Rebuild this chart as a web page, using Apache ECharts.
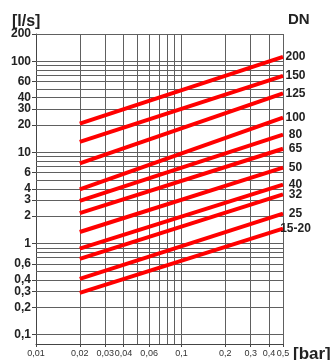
<!DOCTYPE html>
<html>
<head>
<meta charset="utf-8">
<script src="https://cdn.jsdelivr.net/npm/echarts@6/dist/echarts.min.js"></script>
<style>
  html, body { margin: 0; padding: 0; background: #fff; }
  #chart { width: 331px; height: 360px; }
</style>
</head>
<body>
<div id="chart"></div>
<script>
// pressure drop [bar] where every DN line starts and ends
var xStart = 0.02;
var xEnd = 0.5;

var dnNames = ['200', '150', '125', '100', '80', '65', '50', '40', '32', '25', '15-20'];
// flow [l/s] at 0.02 bar and at 0.5 bar
var flowAtStart = [20.8, 13.1, 7.6, 3.93, 2.94, 2.16, 1.34, 0.88, 0.68, 0.41, 0.288];
var flowAtEnd = [112, 69.5, 44.5, 24.2, 15.7, 11.0, 6.83, 4.43, 3.47, 2.13, 1.46];

// tick labels
var xTicks = [0.01, 0.02, 0.03, 0.04, 0.06, 0.1, 0.2, 0.3, 0.4, 0.5];
var yTicks = [0.1, 0.2, 0.3, 0.4, 0.6, 1, 2, 3, 4, 6, 10, 20, 30, 40, 60, 100, 200];

// grid lines
var xGrid = [0.02, 0.03, 0.04, 0.05, 0.06, 0.07, 0.08, 0.09, 0.1, 0.2, 0.3, 0.4, 0.5];
var yGrid = [0.1, 0.2, 0.3, 0.4, 0.5, 0.6, 0.7, 0.8, 0.9, 1, 2, 3, 4, 5, 6, 7, 8, 9,
             10, 20, 30, 40, 50, 60, 70, 80, 90, 100, 200];

var font = 'Liberation Sans, Arial, sans-serif';

function fmt(v) {
  return String(Number(v.toPrecision(6))).replace('.', ',');
}

var series = dnNames.map(function (name, i) {
  return {
    name: name,
    type: 'line',
    data: [[xStart, flowAtStart[i]], [xEnd, flowAtEnd[i]]],
    symbol: 'none',
    silent: true,
    z: 5,
    lineStyle: { color: '#ff0000', width: 4 },
    endLabel: {
      show: true,
      formatter: '{a}',
      align: 'center',
      offset: [4.5, 0],
      fontFamily: font,
      fontWeight: 'bold',
      fontSize: 12,
      color: '#222'
    }
  };
});

// helper series carrying the grid lines
var gridData = [];
xGrid.forEach(function (v) { gridData.push({ xAxis: v }); });
yGrid.forEach(function (v) { gridData.push({ yAxis: v }); });
series.push({
  type: 'line',
  data: [],
  silent: true,
  z: 1,
  markLine: {
    silent: true,
    symbol: 'none',
    label: { show: false },
    animation: false,
    lineStyle: { color: '#606060', width: 1, type: 'solid' },
    data: gridData
  }
});

var chart = echarts.init(document.getElementById('chart'));
chart.setOption({
  animation: false,
  backgroundColor: '#fff',
  grid: { left: 36, right: 48, top: 34, bottom: 16, containLabel: false },
  title: [
    { text: '[l/s]', left: 7, top: 9,
      textStyle: { fontFamily: font, fontWeight: 'bold', fontSize: 16, color: '#222' } },
    { text: 'DN', left: 283, top: 7,
      textStyle: { fontFamily: font, fontWeight: 'bold', fontSize: 15, color: '#222' } },
    { text: '[bar]', left: 288, top: 341,
      textStyle: { fontFamily: font, fontWeight: 'bold', fontSize: 17, color: '#222' } }
  ],
  xAxis: {
    type: 'log',
    min: 0.01,
    max: 0.5,
    axisLine: { lineStyle: { color: '#444', width: 1 } },
    axisTick: { show: true, length: 3, customValues: xTicks, lineStyle: { color: '#444' } },
    axisLabel: {
      customValues: xTicks,
      margin: 5,
      fontFamily: font,
      fontSize: 9,
      color: '#333',
      formatter: function (v) { return fmt(v); }
    },
    splitLine: { show: false },
    minorTick: { show: false }
  },
  yAxis: {
    type: 'log',
    min: 0.079,
    max: 200,
    axisLine: { show: true, lineStyle: { color: '#444', width: 1 } },
    axisTick: { show: true, length: 4, customValues: yTicks, lineStyle: { color: '#444' } },
    axisLabel: {
      customValues: yTicks,
      margin: 5,
      fontFamily: font,
      fontWeight: 'bold',
      fontSize: 12,
      color: '#222',
      formatter: function (v) { return fmt(v); }
    },
    splitLine: { show: false }
  },
  series: series
});
</script>
</body>
</html>
